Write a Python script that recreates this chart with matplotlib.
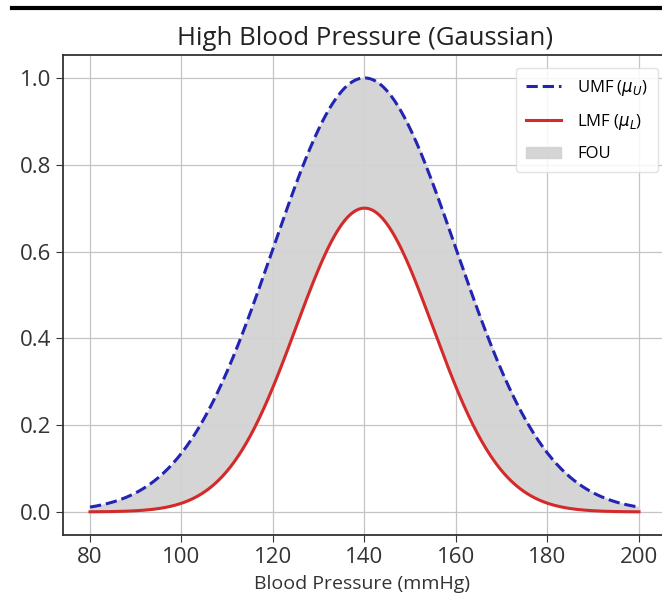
import numpy as np
import matplotlib
matplotlib.use("Agg")
import matplotlib.pyplot as plt
from matplotlib.lines import Line2D

# Gaussian membership parameters
x_min, x_max = 80, 200
center = 140
umf_sigma = 20
umf_height = 1.0
lmf_sigma = 15
lmf_height = 0.7
x_ticks = [80, 100, 120, 140, 160, 180, 200]
y_ticks = [0.0, 0.2, 0.4, 0.6, 0.8, 1.0]

plt.rcParams['font.family'] = ['Open Sans', 'DejaVu Sans']

x = np.linspace(x_min, x_max, 500)
umf = umf_height * np.exp(-0.5 * ((x - center) / umf_sigma) ** 2)
lmf = lmf_height * np.exp(-0.5 * ((x - center) / lmf_sigma) ** 2)

W, H = 662, 597
fig = plt.figure(figsize=(W / 100, H / 100), dpi=100)
# axes extends past the right edge of the canvas (the reference is cropped there)
ax_left, ax_w = 63, 662
ax = fig.add_axes([ax_left / W, 0.104, ax_w / W, 0.804])
px_per_unit = (639 - 90) / 120.0
right_lim = 80 + (ax_left + ax_w - 90) / px_per_unit

ax.plot(x, umf, linestyle='--', color='#2424b4', lw=2.2, label=r'UMF ($\mu_U$)')
ax.plot(x, lmf, color='#d42a2a', lw=2.2, label=r'LMF ($\mu_L$)')
ax.fill_between(x, lmf, umf, color='#d3d3d3', alpha=0.95, label='FOU')

ax.set_xlim(74.1, right_lim)
ax.set_ylim(-0.053, 1.053)
ax.set_xticks(x_ticks)
ax.set_yticks(y_ticks)
ax.set_yticklabels([f"{v:.1f}" for v in y_ticks])
ax.tick_params(labelsize=16, length=5, colors='#333333', labelcolor='#333333')
ax.set_xlabel('Blood Pressure (mmHg)', fontsize=14, color='#333333')
ax.xaxis.set_label_coords((362 - ax_left) / ax_w, -0.083)
ax.set_title('High Blood Pressure (Gaussian)', fontsize=18.5, color='#222222', pad=7,
             x=(365 - ax_left) / ax_w)
ax.grid(True, color='#c4c4c4', lw=0.9)
ax.set_axisbelow(True)
ax.spines['right'].set_visible(False)
for s in ax.spines.values():
    s.set_color('#333333')
    s.set_linewidth(1.3)

leg = ax.legend(loc='upper right', fontsize=12, framealpha=0.85, edgecolor='#dddddd',
                bbox_to_anchor=((658 - ax_left) / ax_w, 1 - 13 / 480.0), borderaxespad=0,
                handlelength=2.1, handletextpad=1.0, labelspacing=0.85, borderpad=0.6)

fig.add_artist(Line2D([0.018, 1.0], [0.986, 0.986], color='black', lw=3,
                      transform=fig.transFigure))

fig.savefig('out.png', dpi=100)
